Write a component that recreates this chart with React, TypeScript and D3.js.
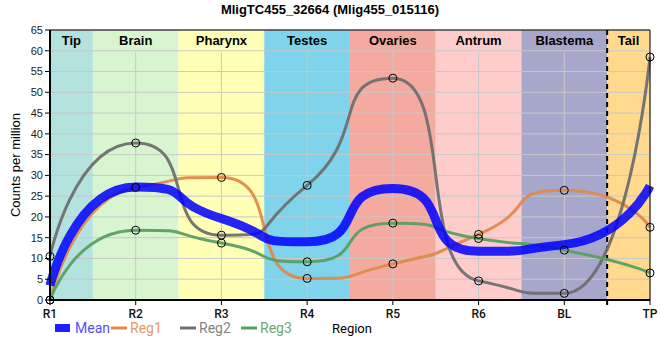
import React from 'react';
import * as d3 from 'd3';

const regions = ['R1', 'R2', 'R3', 'R4', 'R5', 'R6', 'BL', 'TP'];
const reg1 = [0, 27.1, 29.5, 5.2, 8.7, 15.8, 26.4, 17.5];
const reg2 = [10.5, 37.8, 15.6, 27.6, 53.4, 4.6, 1.6, 58.5];
const reg3 = [0, 16.8, 13.7, 9.2, 18.5, 14.8, 12.0, 6.5];
const mean = regions.map((_, i) => (reg1[i] + reg2[i] + reg3[i]) / 3);

const bandNames = ['Tip', 'Brain', 'Pharynx', 'Testes', 'Ovaries', 'Antrum', 'Blastema', 'Tail'];
const bandColors = ['#b4e2de', '#d8f5d0', '#ffffb6', '#7fd3eb', '#f4aa9f', '#ffcccc', '#a7a7cc', '#ffd98e'];
const yTicks = d3.range(0, 70, 5);

const series = [
  { name: 'Reg1', values: reg1, color: '#e0894a', text: '#e59a66', lx: 56 },
  { name: 'Reg2', values: reg2, color: '#6f6f6f', text: '#858585', lx: 125 },
  { name: 'Reg3', values: reg3, color: '#5a9f62', text: '#6aaa72', lx: 186 },
];

// spline: control points far out along the tangent, flattened where it would overshoot
function spline(pts: [number, number][], k = 0.72) {
  const lc: ([number, number] | null)[] = pts.map(() => null);
  const rc: ([number, number] | null)[] = pts.map(() => null);
  for (let i = 1; i < pts.length - 1; i++) {
    const [px, py] = pts[i];
    const [ax, ay] = pts[i - 1];
    const [bx, by] = pts[i + 1];
    const m = (by - ay) / (bx - ax);
    const lx = px - k * (px - ax), rx = px + k * (bx - px);
    let ly = py - m * (px - lx), ry = py + m * (rx - px);
    if (ly > ay && ly > py) { ly = Math.max(ay, py); ry = 2 * py - ly; }
    else if (ly < ay && ly < py) { ly = Math.min(ay, py); ry = 2 * py - ly; }
    if (ry > by && ry > py) { ry = Math.max(by, py); ly = 2 * py - ry; }
    else if (ry < by && ry < py) { ry = Math.min(by, py); ly = 2 * py - ry; }
    lc[i] = [lx, ly]; rc[i] = [rx, ry];
  }
  const p = d3.path();
  p.moveTo(pts[0][0], pts[0][1]);
  for (let i = 1; i < pts.length; i++) {
    const c1 = rc[i - 1] || pts[i - 1];
    const c2 = lc[i] || pts[i];
    p.bezierCurveTo(c1[0], c1[1], c2[0], c2[1], pts[i][0], pts[i][1]);
  }
  return p.toString();
}

export default function App() {
  const margin = { top: 30, right: 10, bottom: 60, left: 50 };
  const width = 660, height = 360;
  const iw = width - margin.left - margin.right;
  const ih = height - margin.top - margin.bottom;

  const x = d3.scalePoint<string>().domain(regions).range([0, iw]);
  const y = d3.scaleLinear().domain([0, 65]).range([ih, 0]);
  const step = x.step();

  const line = (vals: number[]) =>
    spline(vals.map((v, i) => [x(regions[i]) as number, y(v)] as [number, number]));

  const font = '"Liberation Sans", Arial, sans-serif';
  const font2 = 'Roboto, "Liberation Sans", sans-serif';
  const dashX = (x('BL') as number) + step / 2;

  return (
    <svg width={width} height={height} style={{ position: 'absolute', left: 0, top: 0 }} fontFamily={font}>
      <rect width={width} height={height} fill="white" />
      <text x={330} y={14} textAnchor="middle" fontSize={13} fontWeight="bold">MligTC455_32664 (Mlig455_015116)</text>
      <g transform={`translate(${margin.left},${margin.top})`}>
        {bandNames.map((b, i) => {
          const cx = x(regions[i]) as number;
          const x0 = Math.max(0, cx - step / 2);
          const x1 = Math.min(iw, cx + step / 2);
          return (
            <g key={b}>
              <rect x={x0} y={0} width={x1 - x0} height={ih} fill={bandColors[i]} />
              <text x={(x0 + x1) / 2} y={15} textAnchor="middle" fontSize={13} fontWeight="bold">{b}</text>
            </g>
          );
        })}
        {yTicks.map(t => (
          <line key={'gy' + t} x1={0} x2={iw} y1={y(t)} y2={y(t)} stroke="#c8c8c8" strokeWidth={1} />
        ))}
        {regions.map(r => (
          <line key={'gx' + r} x1={x(r)} x2={x(r)} y1={y(65) + 22} y2={ih} stroke="#c8c8c8" strokeWidth={1} />
        ))}
        <line x1={dashX} x2={dashX} y1={0} y2={ih} stroke="black" strokeWidth={2} strokeDasharray="5,4" />
        {series.map(s => (
          <path key={s.name} d={line(s.values)} fill="none" stroke={s.color} strokeWidth={3} opacity={0.95} />
        ))}
        <path d={line(mean)} fill="none" stroke="#0000ff" strokeWidth={9} opacity={0.85} />
        {series.map(s => s.values.map((v, i) => (
          <circle key={s.name + i} cx={x(regions[i])} cy={y(v)} r={4} fill="none" stroke="black" strokeWidth={1} />
        )))}
        <line x1={0} x2={iw} y1={0} y2={0} stroke="black" strokeWidth={1} />
        <line x1={iw} x2={iw} y1={0} y2={ih} stroke="black" strokeWidth={1} />
        <line x1={0} x2={0} y1={0} y2={ih + 1} stroke="black" strokeWidth={2} />
        <line x1={-1} x2={iw} y1={ih} y2={ih} stroke="black" strokeWidth={2} />
        {yTicks.map(t => (
          <g key={'ty' + t} transform={`translate(0,${y(t)})`}>
            <line x1={-5} x2={0} stroke="black" strokeWidth={1} />
            <text x={-7} dy="0.35em" textAnchor="end" fontSize={11} fill="#222">{t}</text>
          </g>
        ))}
        {regions.map(r => (
          <g key={'tx' + r} transform={`translate(${x(r)},${ih})`}>
            <line y1={0} y2={5} stroke="black" strokeWidth={1} />
            <text y={18} textAnchor="middle" fontSize={12} fontWeight={500} fontFamily={font2} fill="#111">{r}</text>
          </g>
        ))}
        <line x1={dashX} x2={dashX} y1={ih} y2={ih + 5} stroke="black" strokeWidth={2} />
        <text transform={`translate(-30,${ih / 2}) rotate(-90)`} textAnchor="middle" fontSize={13}>Counts per million</text>
      </g>
      <g transform="translate(55,328)" fontSize={14} fontFamily={font2}>
        <rect x={0} y={-4} width={15} height={8} fill="#2020ff" />
        <text x={20} dy="0.35em" fill="#5050ff">Mean</text>
        {series.map(s => (
          <g key={'lg' + s.name} transform={`translate(${s.lx},0)`}>
            <line x1={0} x2={16} stroke={s.color} strokeWidth={3} />
            <text x={19} dy="0.35em" fill={s.text}>{s.name}</text>
          </g>
        ))}
        <text x={277} dy="0.35em" fill="black" fontSize={13}>Region</text>
      </g>
    </svg>
  );
}
